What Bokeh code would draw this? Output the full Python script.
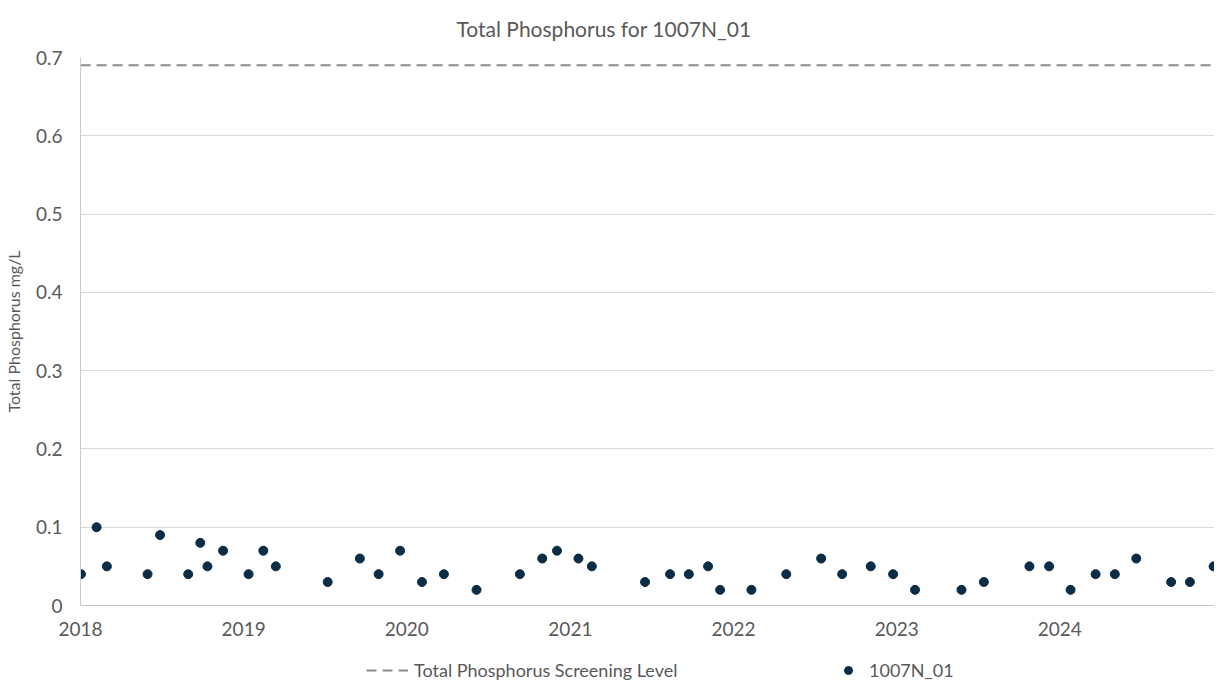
import pandas as pd
from bokeh.plotting import figure
from bokeh.layouts import column
from bokeh.models import (ColumnDataSource, FixedTicker, DatetimeTickFormatter,
                          Legend, LegendItem, Range1d, Title)
from bokeh.embed import file_html
from bokeh.resources import INLINE

# ---- data ----
sample_dates = [
    "2018-01-02", "2018-02-06", "2018-03-01", "2018-05-31", "2018-06-28",
    "2018-08-30", "2018-09-26", "2018-10-12", "2018-11-16", "2019-01-12",
    "2019-02-14", "2019-03-14", "2019-07-08", "2019-09-18", "2019-10-30",
    "2019-12-17", "2020-02-04", "2020-03-24", "2020-06-05", "2020-09-10",
    "2020-10-30", "2020-12-02", "2021-01-19", "2021-02-18", "2021-06-17",
    "2021-08-12", "2021-09-23", "2021-11-05", "2021-12-02", "2022-02-10",
    "2022-04-29", "2022-07-16", "2022-09-01", "2022-11-04", "2022-12-24",
    "2023-02-11", "2023-05-26", "2023-07-15", "2023-10-25", "2023-12-08",
    "2024-01-25", "2024-03-21", "2024-05-03", "2024-06-20", "2024-09-06",
    "2024-10-18", "2024-12-10",
]
phosphorus = [
    0.04, 0.10, 0.05, 0.04, 0.09,
    0.04, 0.08, 0.05, 0.07, 0.04,
    0.07, 0.05, 0.03, 0.06, 0.04,
    0.07, 0.03, 0.04, 0.02, 0.04,
    0.06, 0.07, 0.06, 0.05, 0.03,
    0.04, 0.04, 0.05, 0.02, 0.02,
    0.04, 0.06, 0.04, 0.05, 0.04,
    0.02, 0.02, 0.03, 0.05, 0.05,
    0.02, 0.04, 0.04, 0.06, 0.03,
    0.03, 0.05,
]
screening_level = 0.69
axis_start = "2018-01-01"
axis_end = "2024-12-12"
year_ticks = [2018, 2019, 2020, 2021, 2022, 2023, 2024]
y_ticks = [0, 0.1, 0.2, 0.3, 0.4, 0.5, 0.6, 0.7]
y_tick_labels = ["0", "0.1", "0.2", "0.3", "0.4", "0.5", "0.6", "0.7"]
series_names = ["Total Phosphorus Screening Level", "1007N_01"]

FONT = "Lato"
TXT = "#595959"
LEVEL_COLOR = "#8c8c8c"
POINT_COLOR = "#0a2d45"
DASH = "10 6"

x_dates = pd.to_datetime(sample_dates)
src = ColumnDataSource(dict(x=x_dates, y=phosphorus))
x0 = pd.Timestamp(axis_start)
x1 = pd.Timestamp(axis_end)
level_src = ColumnDataSource(dict(x=[x0, x1], y=[screening_level, screening_level]))

p = figure(width=1214, height=638, x_axis_type="datetime",
           output_backend="svg", toolbar_location=None,
           x_range=Range1d(x0, x1), y_range=Range1d(0, 0.7),
           min_border_left=73, min_border_right=0, min_border_top=57,
           min_border_bottom=0)
p.outline_line_color = None
p.background_fill_color = "white"
p.border_fill_color = "white"

title = Title(text="Total Phosphorus for 1007N_01", align="left",
              vertical_align="top",
              text_font=FONT, text_font_size="21px", text_color=TXT,
              text_font_style="normal", standoff=29, offset=376)
p.add_layout(title, "above")

p.line("x", "y", source=level_src, line_color=LEVEL_COLOR,
       line_width=2, line_dash=DASH)
p.scatter("x", "y", source=src, size=9, fill_color=POINT_COLOR,
          line_color=POINT_COLOR)

# axes
yax = p.yaxis[0]
yax.ticker = FixedTicker(ticks=y_ticks)
yax.major_label_overrides = {t: l for t, l in zip(y_ticks, y_tick_labels)}
yax.axis_label = "Total Phosphorus mg/L"
yax.axis_label_text_font = FONT
yax.axis_label_text_font_size = "16px"
yax.axis_label_text_color = TXT
yax.axis_label_text_font_style = "normal"
yax.axis_label_standoff = 10
yax.major_label_text_font = FONT
yax.major_label_text_font_size = "19px"
yax.major_label_text_color = TXT
yax.major_tick_line_color = None
yax.minor_tick_line_color = None
yax.axis_line_color = "#cccccc"
yax.major_label_standoff = 12

xax = p.xaxis[0]
tick_ms = [pd.Timestamp(f"{y}-01-01").value / 1e6 for y in year_ticks]
xax.ticker = FixedTicker(ticks=tick_ms)
xax.formatter = DatetimeTickFormatter(years="%Y", months="%Y", days="%Y",
                                      hours="%Y", minutes="%Y")
xax.major_label_text_font = FONT
xax.major_label_text_font_size = "19px"
xax.major_label_text_color = TXT
xax.major_tick_line_color = None
xax.minor_tick_line_color = None
xax.axis_line_color = "#c4c4c4"
xax.major_label_standoff = 10

p.xgrid.grid_line_color = None
p.ygrid.ticker = FixedTicker(ticks=y_ticks)
p.ygrid.grid_line_color = "#d9d9d9"

# ---- legend strip below the chart ----
# Its view range holds none of the data, so only the legend swatches show.
lg = figure(width=1214, height=45, output_backend="svg", toolbar_location=None,
            x_range=Range1d(0, 1), y_range=Range1d(1, 2),
            x_axis_location=None, y_axis_location=None,
            min_border_left=73, min_border_right=0,
            min_border_top=0, min_border_bottom=0)
lg.outline_line_color = None
lg.grid.visible = False
sw_line = lg.line("x", "y", source=level_src,
                  line_color=LEVEL_COLOR, line_width=2, line_dash=DASH)
sw_pt = lg.scatter("x", "y", source=src, size=9,
                   fill_color=POINT_COLOR, line_color=POINT_COLOR)


def make_legend(label, rend, loc, gw, standoff):
    L = Legend(items=[LegendItem(label=label, renderers=[rend])],
               location=loc, orientation="horizontal")
    L.label_text_font = FONT
    L.label_text_font_size = "18px"
    L.label_text_color = TXT
    L.border_line_color = None
    L.background_fill_alpha = 0
    L.glyph_width = gw
    L.label_standoff = standoff
    L.padding = 0
    L.margin = 0
    return L


lg.add_layout(make_legend(series_names[0], sw_line, (286, 2), 42, 6), "center")
lg.add_layout(make_legend(series_names[1], sw_pt, (758, 2), 20, 11), "center")

open("out.html", "w").write(file_html(column(p, lg, spacing=0), INLINE))
